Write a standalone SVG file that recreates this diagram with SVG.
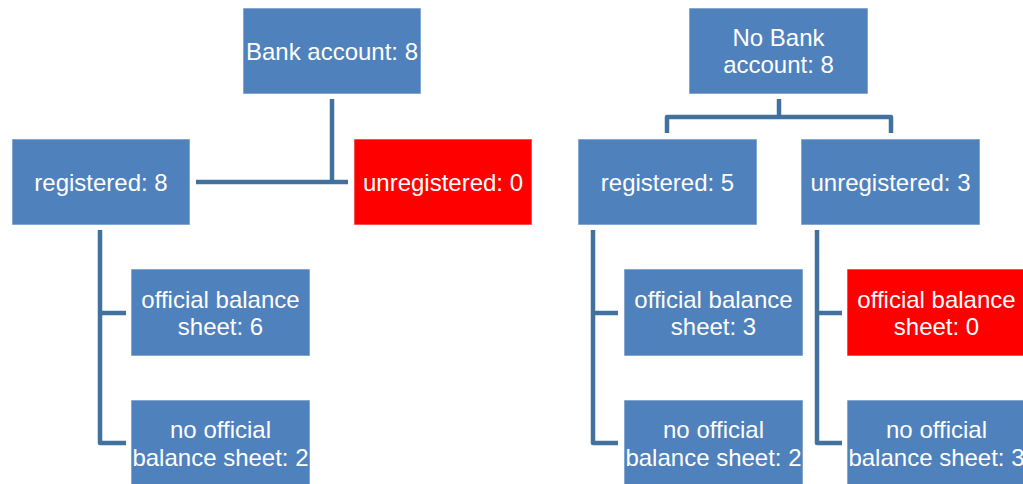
<svg xmlns="http://www.w3.org/2000/svg" width="1023" height="484" viewBox="0 0 1023 484">
  <style>
    .box { fill: #4F81BD; stroke: #ffffff; stroke-opacity: 0.6; stroke-width: 1; }
    .alert { fill: #FF0000; stroke: #ffffff; stroke-opacity: 0.6; stroke-width: 1; }
    .label { font-family: "Liberation Sans", Arial, sans-serif; font-size: 24px; fill: #ffffff; text-anchor: middle; }
    .link { fill: none; stroke: #41719C; stroke-width: 4.5; stroke-linejoin: round; }
  </style>

  <!-- connectors -->
  <g id="connectors">
    <!-- left tree -->
    <path class="link" d="M332,99 V182"/>
    <path class="link" d="M196,182 H348"/>
    <path class="link" d="M126,313 H100 V230 M100,313 V443 H126"/>
    <!-- right tree -->
    <path class="link" d="M779,99 V117"/>
    <path class="link" d="M667,133 V117 H891 V133"/>
    <path class="link" d="M618,313 H593 V230 M593,313 V443 H618"/>
    <path class="link" d="M842,313 H817 V230 M817,313 V443 H842"/>
  </g>

  <!-- left tree: bank account -->
  <g id="bank-account">
    <rect class="box" x="243" y="8" width="178" height="86"/>
    <text class="label" x="332" y="59.5">Bank account: 8</text>
  </g>
  <g id="bank-registered">
    <rect class="box" x="12" y="139" width="178" height="86"/>
    <text class="label" x="101" y="190.5">registered: 8</text>
  </g>
  <g id="bank-unregistered">
    <rect class="alert" x="354" y="139" width="178" height="86"/>
    <text class="label" x="443" y="190.5">unregistered: 0</text>
  </g>
  <g id="bank-registered-official">
    <rect class="box" x="131" y="269" width="179" height="87"/>
    <text class="label" x="220.5" y="307.5">official balance</text>
    <text class="label" x="220.5" y="335">sheet: 6</text>
  </g>
  <g id="bank-registered-no-official">
    <rect class="box" x="131" y="400" width="179" height="87"/>
    <text class="label" x="220.5" y="438">no official</text>
    <text class="label" x="220.5" y="465.5">balance sheet: 2</text>
  </g>

  <!-- right tree: no bank account -->
  <g id="no-bank-account">
    <rect class="box" x="689" y="8" width="179" height="86"/>
    <text class="label" x="778.5" y="45.5">No Bank</text>
    <text class="label" x="778.5" y="73">account: 8</text>
  </g>
  <g id="no-bank-registered">
    <rect class="box" x="578" y="139" width="179" height="86"/>
    <text class="label" x="667.5" y="190.5">registered: 5</text>
  </g>
  <g id="no-bank-unregistered">
    <rect class="box" x="801" y="139" width="179" height="86"/>
    <text class="label" x="890.5" y="190.5">unregistered: 3</text>
  </g>
  <g id="no-bank-registered-official">
    <rect class="box" x="624" y="269" width="179" height="87"/>
    <text class="label" x="713.5" y="307.5">official balance</text>
    <text class="label" x="713.5" y="335">sheet: 3</text>
  </g>
  <g id="no-bank-registered-no-official">
    <rect class="box" x="624" y="400" width="179" height="87"/>
    <text class="label" x="713.5" y="438">no official</text>
    <text class="label" x="713.5" y="465.5">balance sheet: 2</text>
  </g>
  <g id="no-bank-unregistered-official">
    <rect class="alert" x="847" y="269" width="179" height="87"/>
    <text class="label" x="936.5" y="307.5">official balance</text>
    <text class="label" x="936.5" y="335">sheet: 0</text>
  </g>
  <g id="no-bank-unregistered-no-official">
    <rect class="box" x="847" y="400" width="179" height="87"/>
    <text class="label" x="936.5" y="438">no official</text>
    <text class="label" x="936.5" y="465.5">balance sheet: 3</text>
  </g>
</svg>
